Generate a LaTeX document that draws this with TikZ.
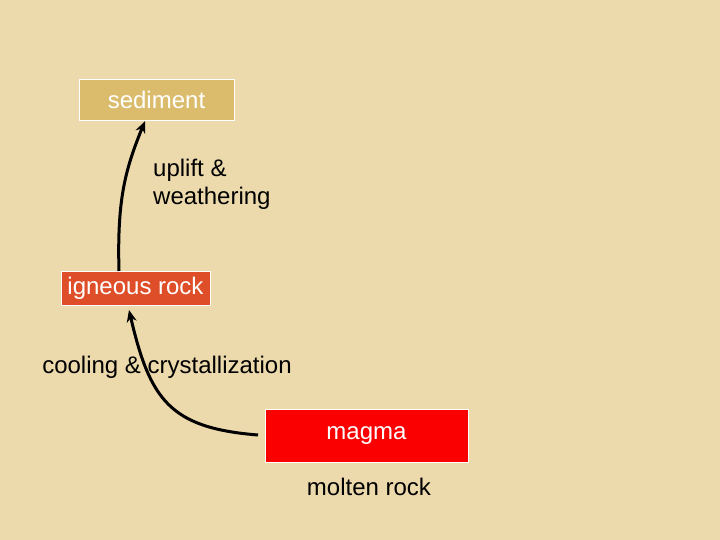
\documentclass[tikz,border=0pt]{standalone}
\usepackage{fontspec}
\usetikzlibrary{arrows.meta}
\setmainfont{Liberation Sans}
\definecolor{bg}{RGB}{236,217,172}
\definecolor{sed}{RGB}{218,188,108}
\definecolor{ign}{RGB}{222,78,40}
\definecolor{mag}{RGB}{250,0,0}
\begin{document}
\begin{tikzpicture}[x=1pt,y=-1pt,
  box/.style={draw=white,line width=0.8pt,text=white,inner sep=0pt,font=\fontsize{24}{28}\selectfont},
  lbl/.style={font=\fontsize{24}{28}\selectfont,inner sep=0pt},
  con/.style={line width=3pt,-{Stealth[length=12pt,width=10pt]}}]
\fill[bg] (0,0) rectangle (720,540);
\useasboundingbox (0,0) rectangle (720,540);
\node[box,fill=sed,minimum width=155pt,minimum height=41pt] (sed) at (156.5,99.5) {sediment};
\node[box,fill=ign,minimum width=149pt,minimum height=34pt] (ign) at (135.5,288) {igneous rock};
\node[box,fill=mag,minimum width=203pt,minimum height=53pt] (mag) at (366.5,435.5) {magma};
\node[lbl,anchor=west,align=left] (up) at (153,184) {uplift \&\\weathering};
\node[lbl] (cool) at (167,367) {cooling \& crystallization};
\node[lbl] (molt) at (369,487) {molten rock};
\coordinate (a1) at (119,271);
\coordinate (e1) at (145,121);
\coordinate (a2) at (258,435);
\coordinate (e2) at (129,310);
\draw[con] (a1) .. controls (117,200) and (125,170) .. (e1);
\draw[con] (a2) .. controls (170,428) and (150,400) .. (e2);
\end{tikzpicture}
\end{document}
